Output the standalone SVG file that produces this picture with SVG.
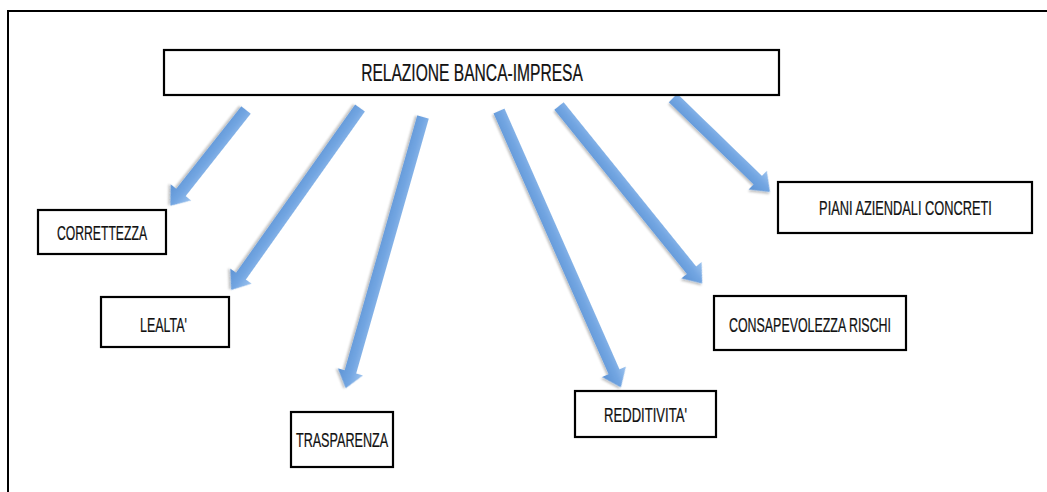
<svg xmlns="http://www.w3.org/2000/svg" width="1047" height="492" viewBox="0 0 1047 492">
  <style>
    .box { fill: #ffffff; stroke: #000000; stroke-width: 2.2; }
    .lbl { font-family: "Liberation Sans", Arial, sans-serif; font-size: 20px; fill: #111111; stroke: #111111; stroke-width: 0.25; text-anchor: middle; }
    .title { font-size: 23px; }
    .arr { fill: url(#blue); filter: url(#soft); }
    .frame { fill: none; stroke: #000000; stroke-width: 2; }
  </style>
  <defs>
    <linearGradient id="blue" x1="0" y1="0" x2="0" y2="1">
      <stop offset="0" stop-color="#9cc3ee"/>
      <stop offset="0.45" stop-color="#73a6e2"/>
      <stop offset="1" stop-color="#5d93d4"/>
    </linearGradient>
    <filter id="soft" x="-10%" y="-30%" width="120%" height="160%">
      <feGaussianBlur in="SourceAlpha" stdDeviation="1.2"/>
      <feOffset dx="0.5" dy="1.5" result="b"/>
      <feComponentTransfer><feFuncA type="linear" slope="0.25"/></feComponentTransfer>
      <feMerge><feMergeNode/><feMergeNode in="SourceGraphic"/></feMerge>
    </filter>
  </defs>

  <rect width="1047" height="492" fill="#ffffff"/>
  <!-- outer frame: top and left edges -->
  <path class="frame" d="M8,492 L8,11 L1047,11"/>

  <!-- connectors: block arrows from the title box to each principle -->
  <g id="connectors">
    <path class="arr" transform="translate(246,110) rotate(128.3)" d="M0,-6 L105,-6 L105,-13 L122,0 L105,13 L105,6 L0,6 Z"/>
    <path class="arr" transform="translate(360,108) rotate(125.3)" d="M0,-6 L206,-6 L206,-13 L223,0 L206,13 L206,6 L0,6 Z"/>
    <path class="arr" transform="translate(423,117) rotate(105.9)" d="M0,-6 L265,-6 L265,-13 L282,0 L265,13 L265,6 L0,6 Z"/>
    <path class="arr" transform="translate(499,111) rotate(66.2)" d="M0,-6 L285,-6 L285,-13 L302,0 L285,13 L285,6 L0,6 Z"/>
    <path class="arr" transform="translate(559,106) rotate(51.1)" d="M0,-6 L211,-6 L211,-13 L228,0 L211,13 L211,6 L0,6 Z"/>
    <path class="arr" transform="translate(673,98) rotate(44.1)" d="M0,-6 L118,-6 L118,-13 L135,0 L118,13 L118,6 L0,6 Z"/>
  </g>

  <!-- labels are narrowed horizontally to a condensed look -->
  <g id="relazione">
    <rect class="box" x="164" y="50" width="615" height="45"/>
    <text class="lbl title" transform="translate(472,81) scale(0.72,1)" textLength="308" lengthAdjust="spacingAndGlyphs">RELAZIONE BANCA-IMPRESA</text>
  </g>
  <g id="correttezza">
    <rect class="box" x="38" y="210" width="128" height="44"/>
    <text class="lbl" transform="translate(102,240) scale(0.72,1)" textLength="125" lengthAdjust="spacingAndGlyphs">CORRETTEZZA</text>
  </g>
  <g id="lealta">
    <rect class="box" x="101" y="297" width="128" height="50"/>
    <text class="lbl" transform="translate(163.5,332) scale(0.72,1)" textLength="65" lengthAdjust="spacingAndGlyphs">LEALTA'</text>
  </g>
  <g id="trasparenza">
    <rect class="box" x="291" y="412" width="102" height="55"/>
    <text class="lbl" transform="translate(342,447) scale(0.72,1)" textLength="128" lengthAdjust="spacingAndGlyphs">TRASPARENZA</text>
  </g>
  <g id="redditivita">
    <rect class="box" x="575" y="391" width="141" height="46"/>
    <text class="lbl" transform="translate(645.5,422) scale(0.72,1)" textLength="115" lengthAdjust="spacingAndGlyphs">REDDITIVITA'</text>
  </g>
  <g id="consapevolezza">
    <rect class="box" x="714" y="296" width="192" height="54"/>
    <text class="lbl" transform="translate(810,332) scale(0.72,1)" textLength="225" lengthAdjust="spacingAndGlyphs">CONSAPEVOLEZZA RISCHI</text>
  </g>
  <g id="piani">
    <rect class="box" x="778" y="182" width="254" height="51"/>
    <text class="lbl" transform="translate(905.5,215) scale(0.72,1)" textLength="240" lengthAdjust="spacingAndGlyphs">PIANI AZIENDALI CONCRETI</text>
  </g>
</svg>
